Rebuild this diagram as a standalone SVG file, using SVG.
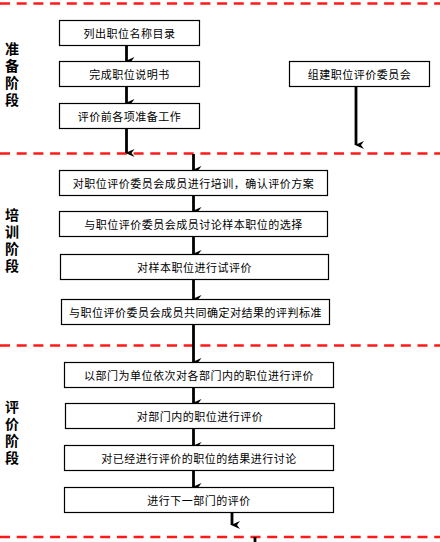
<svg xmlns="http://www.w3.org/2000/svg" width="440" height="542" viewBox="0 0 440 542">
<defs>
<marker id="ah" markerWidth="8" markerHeight="9" refX="4" refY="8" orient="auto-start-reverse" markerUnits="userSpaceOnUse" viewBox="0 0 8 9">
<path d="M0,0 L4,9 L8,0 L4,3 Z" fill="#000"/>
</marker>
<style>
.box{fill:#fff;stroke:#000;stroke-width:1.2}
.t{font-family:"Noto Sans CJK SC","Noto Sans",sans-serif;font-size:11px;fill:#000;text-anchor:middle;dominant-baseline:central;letter-spacing:0.5px}
.stage{font-family:"Noto Sans CJK SC","Noto Sans",sans-serif;font-size:14px;font-weight:bold;fill:#000;writing-mode:vertical-rl;text-anchor:start;letter-spacing:3px}
.dash{stroke:#ff1a1a;stroke-width:2.5;stroke-dasharray:10 6.7;fill:none}
.arr{stroke:#000;stroke-width:2.8;fill:none}
</style>
</defs>
<g id="separators">
<line class="dash" x1="0" y1="3.5" x2="440" y2="3.5"/>
<line class="dash" x1="0" y1="153.5" x2="440" y2="153.5"/>
<line class="dash" x1="0" y1="345.5" x2="440" y2="345.5"/>
<line class="dash" x1="0" y1="537" x2="440" y2="537"/>
</g>
<g id="stage1"><text class="stage" x="12" y="42">准备阶段</text></g>
<g id="stage2"><text class="stage" x="12" y="208">培训阶段</text></g>
<g id="stage3"><text class="stage" x="12" y="400">评价阶段</text></g>
<g id="connectors">
<line class="arr" x1="126.5" y1="45" x2="126.5" y2="61" marker-end="url(#ah)"/>
<line class="arr" x1="126.5" y1="86" x2="126.5" y2="103" marker-end="url(#ah)"/>
<line class="arr" x1="126.5" y1="128" x2="126.5" y2="153" marker-end="url(#ah)"/>
<line class="arr" x1="356" y1="86" x2="356" y2="145" marker-end="url(#ah)"/>
<line class="arr" x1="193.5" y1="154" x2="193.5" y2="170" marker-end="url(#ah)"/>
<line class="arr" x1="193.5" y1="195" x2="193.5" y2="211" marker-end="url(#ah)"/>
<line class="arr" x1="193.5" y1="236" x2="193.5" y2="254" marker-end="url(#ah)"/>
<line class="arr" x1="193.5" y1="279" x2="193.5" y2="299" marker-end="url(#ah)"/>
<line class="arr" x1="193.5" y1="324" x2="193.5" y2="362" marker-end="url(#ah)"/>
<line class="arr" x1="193.5" y1="387" x2="193.5" y2="403" marker-end="url(#ah)"/>
<line class="arr" x1="193.5" y1="428" x2="193.5" y2="446" marker-end="url(#ah)"/>
<line class="arr" x1="193.5" y1="470" x2="193.5" y2="487" marker-end="url(#ah)"/>
<line class="arr" x1="232" y1="512" x2="232" y2="525" marker-end="url(#ah)"/>
<line class="arr" x1="255" y1="537" x2="255" y2="542"/>
</g>
<g id="n1"><rect class="box" x="59.5" y="20.5" width="140" height="25"/><text class="t" x="129.5" y="33">列出职位名称目录</text></g>
<g id="n2"><rect class="box" x="59.5" y="61.5" width="140" height="25"/><text class="t" x="129.5" y="74">完成职位说明书</text></g>
<g id="n3"><rect class="box" x="59.5" y="103.5" width="140" height="25"/><text class="t" x="129.5" y="116">评价前各项准备工作</text></g>
<g id="n4"><rect class="box" x="289.5" y="61.5" width="140" height="25"/><text class="t" x="359.5" y="74">组建职位评价委员会</text></g>
<g id="n5"><rect class="box" x="59.5" y="170.5" width="268" height="25"/><text class="t" x="193.5" y="183">对职位评价委员会成员进行培训，确认评价方案</text></g>
<g id="n6"><rect class="box" x="59.5" y="211.5" width="268" height="25"/><text class="t" x="193.5" y="224">与职位评价委员会成员讨论样本职位的选择</text></g>
<g id="n7"><rect class="box" x="60.5" y="254.5" width="268" height="25"/><text class="t" x="194.5" y="267">对样本职位进行试评价</text></g>
<g id="n8"><rect class="box" x="61.5" y="299.5" width="268" height="25"/><text class="t" x="195.5" y="312">与职位评价委员会成员共同确定对结果的评判标准</text></g>
<g id="n9"><rect class="box" x="64.5" y="362.5" width="269" height="25"/><text class="t" x="199" y="375">以部门为单位依次对各部门内的职位进行评价</text></g>
<g id="n10"><rect class="box" x="65.5" y="403.5" width="269" height="25"/><text class="t" x="200" y="416">对部门内的职位进行评价</text></g>
<g id="n11"><rect class="box" x="64.5" y="445.5" width="269" height="25"/><text class="t" x="199" y="458">对已经进行评价的职位的结果进行讨论</text></g>
<g id="n12"><rect class="box" x="64.5" y="487.5" width="269" height="25"/><text class="t" x="199" y="500">进行下一部门的评价</text></g>
</svg>
